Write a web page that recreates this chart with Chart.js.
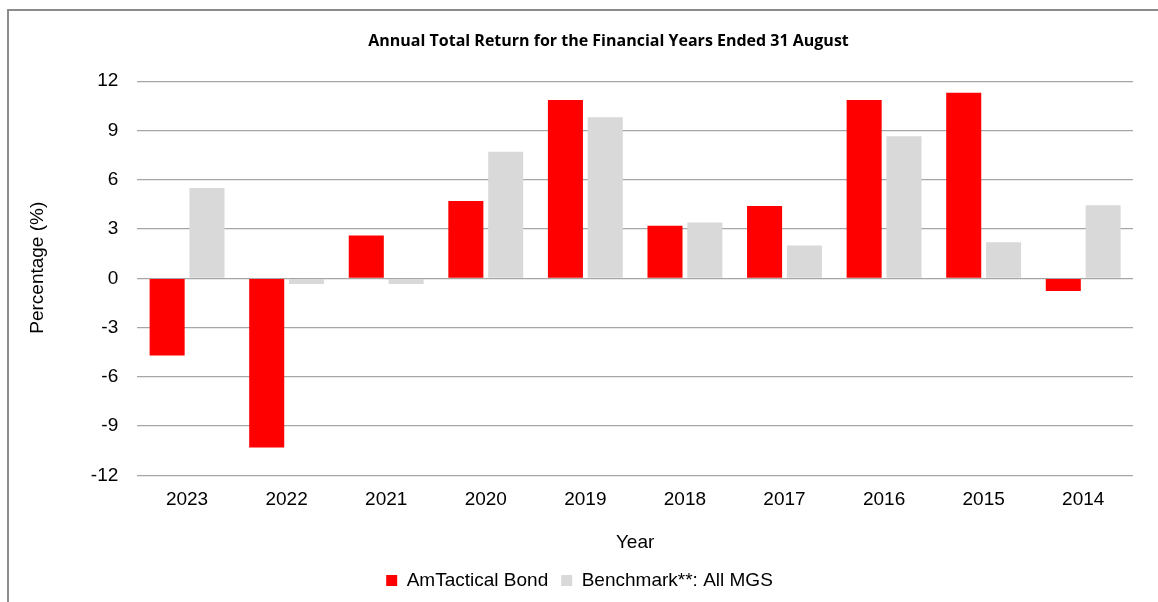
<!DOCTYPE html>
<html>
<head>
<meta charset="utf-8">
<script src="https://cdn.jsdelivr.net/npm/chart.js@4"></script>
<style>
    body { margin: 0; background: #fff; overflow: hidden; }
    #frame { position: absolute; left: 7px; top: 9px; width: 1160px; height: 600px; border-left: 2px solid #8c8c8c; border-top: 2px solid #8c8c8c; }
    #wrap { position: absolute; left: 0; top: 0; width: 1158px; height: 602px; }
</style>
</head>
<body>
<div id="frame"></div>
<div id="wrap"><canvas id="chartReturn"></canvas></div>
<script>
const years = ["2023", "2022", "2021", "2020", "2019", "2018", "2017", "2016", "2015", "2014"];
const fundReturn = [-4.7, -10.3, 2.6, 4.7, 10.85, 3.2, 4.4, 10.85, 11.3, -0.77];
const benchmarkReturn = [5.5, -0.35, -0.35, 7.7, 9.8, 3.4, 2.0, 8.65, 2.2, 4.45];
const yTicks = [-12, -9, -6, -3, 0, 3, 6, 9, 12];

const ctx = document.getElementById("chartReturn").getContext("2d");
const axisFont = { family: "'Liberation Sans', Arial, sans-serif", size: 19 };

// the title sits a bit right of the page centre in the original
const shiftTitle = {
    id: "shiftTitle",
    afterLayout(chart) {
        if (chart.titleBlock) chart.titleBlock.left += 58;
    }
};

new Chart(ctx, {
    type: "bar",
    data: {
        labels: years,
        datasets: [
            {
                label: "AmTactical Bond",
                data: fundReturn,
                backgroundColor: "#ff0000",
                categoryPercentage: 0.8,
                barPercentage: 0.88
            },
            {
                label: "Benchmark**: All MGS",
                data: benchmarkReturn,
                backgroundColor: "#d9d9d9",
                categoryPercentage: 0.8,
                barPercentage: 0.88
            }
        ]
    },
    plugins: [shiftTitle],
    options: {
        responsive: true,
        maintainAspectRatio: false,
        animation: false,
        layout: { padding: { left: 26, right: 25, top: 12, bottom: 2 } },
        plugins: {
            title: {
                display: true,
                text: "Annual Total Return for the Financial Years Ended 31 August",
                color: "#000",
                font: { family: "'Open Sans', sans-serif", size: 16, weight: "bold" },
                padding: { top: 20, bottom: 30 }
            },
            legend: {
                position: "bottom",
                labels: {
                    color: "#000",
                    boxWidth: 11,
                    boxHeight: 11,
                    padding: 13,
                    font: axisFont
                }
            },
            tooltip: { enabled: false }
        },
        scales: {
            x: {
                grid: { display: false },
                border: { display: false },
                ticks: { color: "#000", padding: 5, font: axisFont },
                title: {
                    display: true,
                    text: "Year",
                    color: "#000",
                    padding: { top: 15, bottom: 4 },
                    font: axisFont
                }
            },
            y: {
                min: -12,
                max: 12,
                afterBuildTicks: (axis) => { axis.ticks = yTicks.map(v => ({ value: v })); },
                grid: { color: "#a6a6a6", lineWidth: 1.3, drawTicks: false },
                border: { display: false },
                ticks: { color: "#000", padding: 19, font: axisFont },
                title: {
                    display: true,
                    text: "    Percentage (%)",
                    color: "#000",
                    padding: { top: 0, bottom: 23 },
                    font: axisFont
                }
            }
        }
    }
});
</script>
</body>
</html>
